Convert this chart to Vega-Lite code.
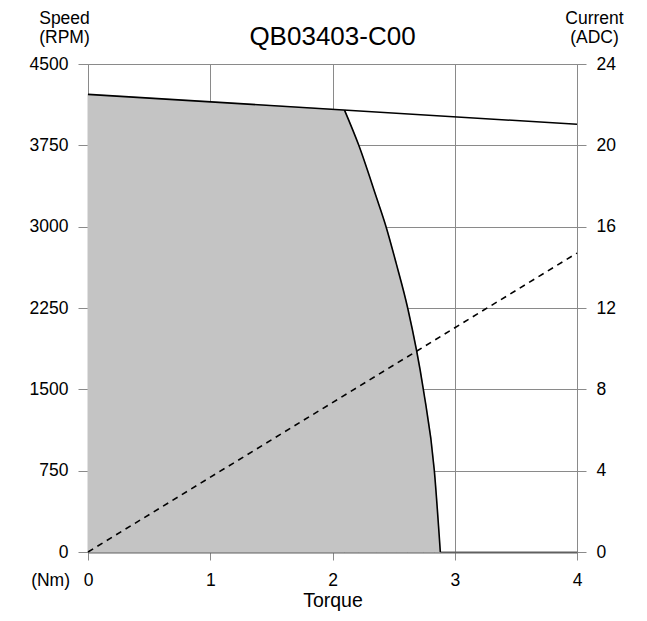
{
  "$schema": "https://vega.github.io/schema/vega-lite/v6.json",
  "autosize": {"type": "none"},
  "padding": {"left": 88, "top": 64, "right": 70, "bottom": 69},
  "width": 489,
  "height": 488,
  "background": "white",
  "config": {
    "font": "Liberation Sans",
    "view": {"stroke": "#8a8a8a", "strokeWidth": 1},
    "axis": {
      "labelFont": "Liberation Sans",
      "titleFont": "Liberation Sans",
      "labelColor": "#000000",
      "titleColor": "#000000",
      "titleFontWeight": "normal",
      "labelFontSize": 17.5,
      "titleFontSize": 17.5,
      "gridColor": "#8a8a8a",
      "gridOpacity": 1,
      "tickColor": "#8a8a8a",
      "labelFlush": false,
      "labelOverlap": false
    }
  },
  "datasets": {
    "flat": [
      {"torque": 0, "rpm": 4220},
      {"torque": 2.098, "rpm": 4075}
    ],
    "curve": [
      {"torque": 2.098, "rpm": 4075},
      {"torque": 2.215, "rpm": 3750},
      {"torque": 2.357, "rpm": 3278},
      {"torque": 2.438, "rpm": 3000},
      {"torque": 2.52, "rpm": 2666},
      {"torque": 2.615, "rpm": 2250},
      {"torque": 2.743, "rpm": 1500},
      {"torque": 2.833, "rpm": 750},
      {"torque": 2.882, "rpm": 0}
    ],
    "speedline": [
      {"torque": 0, "rpm": 4220},
      {"torque": 4, "rpm": 3944}
    ],
    "current": [
      {"torque": 0, "amps": 0},
      {"torque": 4, "amps": 14.7}
    ]
  },
  "layer": [
    {
      "layer": [
        {
          "data": {"name": "flat"},
          "mark": {"type": "area", "color": "#c4c4c4", "stroke": "#c4c4c4", "strokeWidth": 1, "opacity": 1},
          "encoding": {
            "x": {
              "field": "torque", "type": "quantitative",
              "scale": {"domain": [0, 4], "nice": false},
              "axis": {
                "values": [0, 1, 2, 3, 4],
                "format": "d",
                "title": "Torque",
                "titleFontSize": 19.5,
                "titlePadding": 3,
                "tickSize": 8,
                "labelPadding": 11,
                "domain": true,
                "domainColor": "#606060",
                "domainWidth": 2,
                "grid": true
              }
            },
            "y": {
              "field": "rpm", "type": "quantitative",
              "scale": {"domain": [0, 4500], "nice": false},
              "axis": {
                "values": [0, 750, 1500, 2250, 3000, 3750, 4500],
                "format": "d",
                "title": ["Speed", "(RPM)"],
                "titleAngle": 0,
                "titleAlign": "center",
                "titleBaseline": "top",
                "titleX": -24,
                "titleY": -55,
                "titleLineHeight": 19,
                "tickSize": 10,
                "labelPadding": 10,
                "domain": false,
                "grid": true
              }
            }
          }
        },
        {
          "data": {"name": "curve"},
          "mark": {"type": "area", "color": "#c4c4c4", "stroke": "#c4c4c4", "strokeWidth": 1, "opacity": 1, "interpolate": "monotone"},
          "encoding": {
            "x": {"field": "torque", "type": "quantitative"},
            "y": {"field": "rpm", "type": "quantitative"}
          }
        },
        {
          "data": {"name": "curve"},
          "mark": {"type": "line", "color": "#000000", "strokeWidth": 1.6, "interpolate": "monotone"},
          "encoding": {
            "x": {"field": "torque", "type": "quantitative"},
            "y": {"field": "rpm", "type": "quantitative"}
          }
        },
        {
          "data": {"name": "speedline"},
          "mark": {"type": "line", "color": "#000000", "strokeWidth": 1.6},
          "encoding": {
            "x": {"field": "torque", "type": "quantitative"},
            "y": {"field": "rpm", "type": "quantitative"}
          }
        },
        {
          "data": {"values": [{}]},
          "mark": {"type": "text", "text": "QB03403-C00", "fontSize": 26, "align": "center", "baseline": "middle", "dy": -27, "color": "#000000", "font": "Liberation Sans"},
          "encoding": {
            "x": {"datum": 2, "type": "quantitative"},
            "y": {"datum": 4500, "type": "quantitative"}
          }
        },
        {
          "data": {"values": [{}]},
          "mark": {"type": "text", "text": "(Nm)", "fontSize": 17.5, "align": "right", "baseline": "middle", "dx": -18, "dy": 29, "color": "#000000", "font": "Liberation Sans"},
          "encoding": {
            "x": {"datum": 0, "type": "quantitative"},
            "y": {"datum": 0, "type": "quantitative"}
          }
        }
      ]
    },
    {
      "data": {"name": "current"},
      "mark": {"type": "line", "color": "#000000", "strokeWidth": 1.6, "strokeDash": [6, 5]},
      "encoding": {
        "x": {"field": "torque", "type": "quantitative"},
        "y": {
          "field": "amps", "type": "quantitative",
          "scale": {"domain": [0, 24], "nice": false},
          "axis": {
            "orient": "right",
            "values": [0, 4, 8, 12, 16, 20, 24],
            "format": "d",
            "title": ["Current", "(ADC)"],
            "titleAngle": 0,
            "titleAlign": "center",
            "titleBaseline": "top",
            "titleX": 17,
            "titleY": -55,
            "titleLineHeight": 19,
            "tickSize": 9,
            "labelPadding": 10,
            "domain": false,
            "grid": false
          }
        }
      }
    }
  ],
  "resolve": {"scale": {"y": "independent"}}
}
